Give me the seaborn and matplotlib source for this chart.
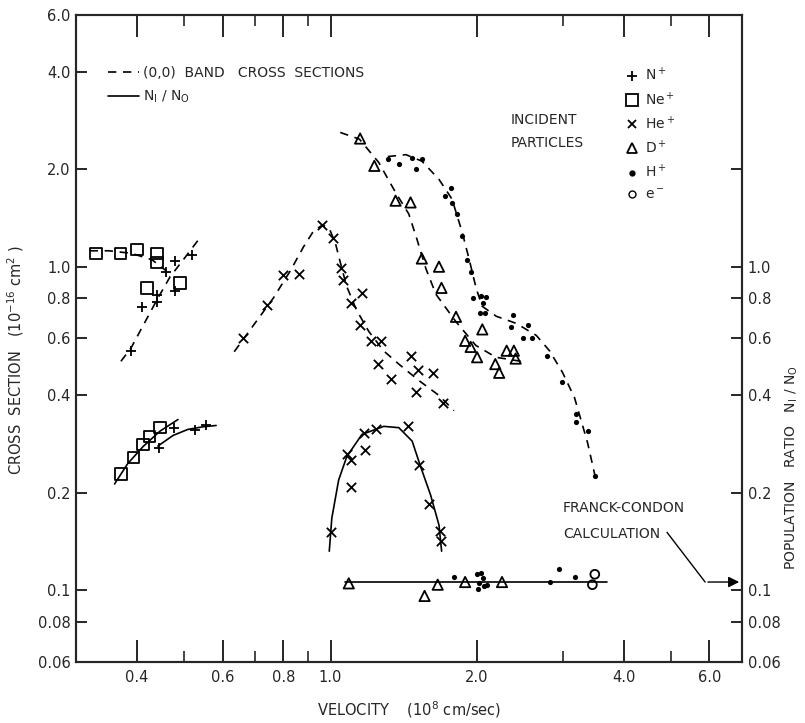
import numpy as np
import pandas as pd
import seaborn as sns
import matplotlib.pyplot as plt
from matplotlib.lines import Line2D
from matplotlib.ticker import FixedLocator, NullFormatter, FixedFormatter

# ---- data (velocity in 1e8 cm/s) ----
# (0,0) band cross sections, 1e-16 cm^2
ne_v = [0.33, 0.37, 0.40, 0.44, 0.44, 0.42, 0.49]
ne_cs = [1.10, 1.10, 1.13, 1.10, 1.03, 0.86, 0.89]
ne_fit_v = [0.32, 0.35, 0.39, 0.43, 0.46]
ne_fit_cs = [1.12, 1.12, 1.10, 1.05, 0.97]

n_v = [0.39, 0.41, 0.44, 0.44, 0.46, 0.48, 0.48, 0.52]
n_cs = [0.55, 0.75, 0.78, 0.82, 0.96, 0.84, 1.04, 1.09]
n_fit_v = [0.371, 0.389, 0.417, 0.442, 0.468, 0.503, 0.535]
n_fit_cs = [0.51, 0.56, 0.68, 0.80, 0.93, 1.07, 1.21]

he_v = [0.66, 0.74, 0.80, 0.86, 0.96, 1.01, 1.05, 1.06, 1.10, 1.16, 1.15, 1.21,
        1.27, 1.25, 1.33, 1.46, 1.51, 1.62, 1.50, 1.70]
he_cs = [0.60, 0.76, 0.94, 0.95, 1.35, 1.23, 0.99, 0.91, 0.77, 0.83, 0.66, 0.59,
         0.59, 0.50, 0.45, 0.53, 0.48, 0.47, 0.41, 0.38]
he_fit_v = [0.634, 0.697, 0.763, 0.827, 0.880, 0.923, 0.963, 0.995, 1.024, 1.049,
            1.079, 1.131, 1.198, 1.286, 1.381, 1.518, 1.670, 1.793]
he_fit_cs = [0.546, 0.664, 0.80, 0.972, 1.152, 1.29, 1.346, 1.309, 1.177, 1.021,
             0.870, 0.734, 0.631, 0.549, 0.500, 0.445, 0.40, 0.359]

d_v = [1.15, 1.23, 1.36, 1.46, 1.54, 1.67, 1.69, 1.81, 2.05, 1.89, 1.94, 2.00,
       2.18, 2.22, 2.30, 2.38, 2.40]
d_cs = [2.49, 2.05, 1.60, 1.58, 1.06, 1.00, 0.86, 0.70, 0.64, 0.59, 0.565, 0.525,
        0.50, 0.47, 0.55, 0.55, 0.52]
d_fit_v = [1.047, 1.146, 1.256, 1.359, 1.448, 1.504, 1.570, 1.646, 1.807, 1.988, 2.186, 2.52]
d_fit_cs = [2.60, 2.48, 2.10, 1.70, 1.455, 1.219, 0.986, 0.822, 0.678, 0.571, 0.525, 0.507]

h_v = [1.31, 1.38, 1.47, 1.54, 1.50, 1.77, 1.72, 1.78, 1.82, 1.86, 1.91, 1.94,
       1.96, 2.04, 2.09, 2.06, 2.03, 2.08, 2.37, 2.35, 2.55, 2.49, 2.59, 2.79,
       2.99, 3.20, 3.19, 3.38, 3.50]
h_cs = [2.16, 2.07, 2.17, 2.16, 2.00, 1.75, 1.65, 1.57, 1.46, 1.24, 1.05, 0.96,
        0.80, 0.81, 0.805, 0.77, 0.72, 0.72, 0.71, 0.65, 0.66, 0.60, 0.60, 0.53,
        0.44, 0.35, 0.33, 0.31, 0.225]
h_fit_v = [1.311, 1.428, 1.540, 1.670, 1.776, 1.863, 1.925, 1.991, 2.048, 2.189,
           2.407, 2.647, 2.816, 2.994, 3.170, 3.372, 3.519]
h_fit_cs = [2.19, 2.22, 2.12, 1.862, 1.618, 1.281, 1.058, 0.858, 0.755, 0.703,
            0.668, 0.613, 0.55, 0.472, 0.394, 0.286, 0.215]

# population ratio N1/N0
ne_r_v = [0.371, 0.394, 0.412, 0.425, 0.446]
ne_r = [0.229, 0.257, 0.282, 0.299, 0.318]
ne_r_fit_v = [0.360, 0.383, 0.412, 0.446, 0.486]
ne_r_fit = [0.213, 0.246, 0.278, 0.310, 0.337]

n_r_v = [0.444, 0.477, 0.527, 0.555]
n_r = [0.276, 0.318, 0.312, 0.323]
n_r_fit_v = [0.442, 0.475, 0.509, 0.547, 0.582]
n_r_fit = [0.279, 0.301, 0.314, 0.320, 0.323]

he_r_v = [1.00, 1.08, 1.10, 1.10, 1.175, 1.17, 1.24, 1.44, 1.52, 1.59, 1.68, 1.69]
he_r = [0.151, 0.264, 0.253, 0.208, 0.272, 0.306, 0.314, 0.321, 0.243, 0.185, 0.152, 0.142]
he_r_fit_v = [0.994, 1.006, 1.039, 1.080, 1.160, 1.286, 1.381, 1.471, 1.531, 1.605, 1.670, 1.691]
he_r_fit = [0.132, 0.167, 0.219, 0.259, 0.303, 0.321, 0.318, 0.289, 0.241, 0.197, 0.159, 0.132]

d_r_v = [1.09, 1.66, 1.56, 1.89, 2.25]
d_r = [0.105, 0.104, 0.096, 0.106, 0.106]
h_r_v = [1.79, 2.00, 2.04, 2.06, 2.02, 2.07, 2.10, 2.01, 2.82, 2.95, 3.18]
h_r = [0.110, 0.112, 0.113, 0.109, 0.105, 0.103, 0.104, 0.101, 0.106, 0.116, 0.110]
e_r_v = [3.49, 3.45]
e_r = [0.112, 0.104]
fc_v = [1.07, 3.69]
fc_r = [0.106, 0.106]

x_ticks = [0.4, 0.6, 0.8, 1.0, 2.0, 4.0, 6.0]
x_minor = [0.5, 0.7, 0.9, 3.0, 5.0]
y_ticks = [0.06, 0.08, 0.1, 0.2, 0.4, 0.6, 0.8, 1.0, 2.0, 4.0, 6.0]
y_labels = ["0.06", "0.08", "0.1", "0.2", "0.4", "0.6", "0.8", "1.0", "2.0", "4.0", "6.0"]
yr_ticks = [0.06, 0.08, 0.1, 0.2, 0.4, 0.6, 0.8, 1.0, 2.0]
yr_labels = ["0.06", "0.08", "0.1", "0.2", "0.4", "0.6", "0.8", "1.0", ""]

sns.set_style("ticks")
plt.rcParams['font.family'] = ['DejaVu Sans']

fig = plt.figure(figsize=(8.05, 7.23), dpi=100)
ax = fig.add_axes([0.0944, 0.0844, 0.8273, 0.8949])
ax.set_xscale('log')
ax.set_yscale('log')
ax.set_xlim(0.3, 7.0)
ax.set_ylim(0.06, 6.0)

dash = (0, (5, 4))
lw = 1.2
# fitted curves
for xv, yv, ls in [(ne_fit_v, ne_fit_cs, dash), (n_fit_v, n_fit_cs, dash),
                   (he_fit_v, he_fit_cs, dash), (d_fit_v, d_fit_cs, dash),
                   (h_fit_v, h_fit_cs, dash),
                   (ne_r_fit_v, ne_r_fit, '-'), (n_r_fit_v, n_r_fit, '-'),
                   (he_r_fit_v, he_r_fit, '-'), (fc_v, fc_r, '-')]:
    sns.lineplot(x=xv, y=yv, ax=ax, color='black', linestyle=ls, linewidth=lw,
                 estimator=None, sort=False)

# data points
def pts(xv, yv, marker, size, filled=False):
    if marker in ('x', '+'):
        sns.scatterplot(x=xv, y=yv, ax=ax, marker=marker, s=size, color='black',
                        linewidth=1.3)
    elif filled:
        sns.scatterplot(x=xv, y=yv, ax=ax, marker=marker, s=size, color='black',
                        edgecolor='black', linewidth=0)
    else:
        sns.scatterplot(x=xv, y=yv, ax=ax, marker=marker, s=size, facecolor='none',
                        edgecolor='black', linewidth=1.3)

pts(ne_v, ne_cs, 's', 70)
pts(ne_r_v, ne_r, 's', 70)
pts(n_v, n_cs, '+', 55)
pts(n_r_v, n_r, '+', 55)
pts(he_v, he_cs, 'x', 45)
pts(he_r_v, he_r, 'x', 45)
pts(d_v, d_cs, '^', 55)
pts(d_r_v, d_r, '^', 55)
pts(h_v, h_cs, 'o', 14, filled=True)
pts(h_r_v, h_r, 'o', 14, filled=True)
pts(e_r_v, e_r, 'o', 40)

# axes styling
for sp in ax.spines.values():
    sp.set_linewidth(1.5)
    sp.set_visible(True)
ax.xaxis.set_major_locator(FixedLocator(x_ticks))
ax.xaxis.set_major_formatter(FixedFormatter([f"{t:.1f}" for t in x_ticks]))
ax.xaxis.set_minor_locator(FixedLocator(x_minor))
ax.xaxis.set_minor_formatter(NullFormatter())
ax.yaxis.set_major_locator(FixedLocator(y_ticks))
ax.yaxis.set_major_formatter(FixedFormatter(y_labels))
ax.yaxis.set_minor_locator(FixedLocator([0.1, 1.0]))
ax.yaxis.set_minor_formatter(NullFormatter())
ax.tick_params(axis='x', which='major', direction='in', length=16, width=1.4,
               top=True, labelsize=10.5, pad=6)
ax.tick_params(axis='x', which='minor', direction='in', length=8, width=1.2, top=True)
ax.tick_params(axis='y', which='major', direction='in', length=8, width=1.4,
               labelsize=10.5, pad=4)
ax.tick_params(axis='y', which='minor', direction='in', length=20, width=1.4)

ax2 = ax.twinx()
ax2.set_yscale('log')
ax2.set_ylim(0.06, 6.0)
ax2.yaxis.set_major_locator(FixedLocator(yr_ticks))
ax2.yaxis.set_major_formatter(FixedFormatter(yr_labels))
ax2.yaxis.set_minor_locator(FixedLocator([0.1, 1.0]))
ax2.yaxis.set_minor_formatter(NullFormatter())
ax2.tick_params(axis='y', which='major', direction='in', length=8, width=1.4,
                labelsize=10.5, pad=4)
ax2.tick_params(axis='y', which='minor', direction='in', length=24, width=1.4)
for sp in ax2.spines.values():
    sp.set_linewidth(1.5)

ax.set_xlabel("VELOCITY    (10$^8$ cm/sec)", fontsize=10.5, labelpad=10)
ax.set_ylabel("CROSS  SECTION   (10$^{-16}$ cm$^2$ )", fontsize=10.5)
ax.yaxis.set_label_coords(-0.075, 0.467)
ax2.set_ylabel("POPULATION   RATIO   N$_{\\mathsf{I}}$ / N$_{\\mathsf{O}}$",
               fontsize=10, rotation=90)
ax2.yaxis.set_label_coords(1.062, 0.30)

# line legend (upper left)
line_handles = [Line2D([], [], color='black', linestyle=dash, linewidth=lw),
                Line2D([], [], color='black', linestyle='-', linewidth=lw)]
leg1 = ax.legend(line_handles, ["(0,0)  BAND   CROSS  SECTIONS", "N$_{\\mathsf{I}}$ / N$_{\\mathsf{O}}$"],
                 loc='upper left', bbox_to_anchor=(0.03, 0.94), frameon=False,
                 fontsize=10, handlelength=2.2, handletextpad=0.3, labelspacing=0.6)
ax.add_artist(leg1)

# particle legend (upper right)
mk_handles = [
    Line2D([], [], color='black', marker='+', linestyle='none', markersize=7, markeredgewidth=1.3),
    Line2D([], [], color='black', marker='s', linestyle='none', markersize=8,
           markerfacecolor='none', markeredgewidth=1.3),
    Line2D([], [], color='black', marker='x', linestyle='none', markersize=6, markeredgewidth=1.3),
    Line2D([], [], color='black', marker='^', linestyle='none', markersize=7,
           markerfacecolor='none', markeredgewidth=1.3),
    Line2D([], [], color='black', marker='o', linestyle='none', markersize=3.5),
    Line2D([], [], color='black', marker='o', linestyle='none', markersize=5,
           markerfacecolor='none', markeredgewidth=1.0),
]
mk_labels = ["N$^+$", "Ne$^+$", "He$^+$", "D$^+$", "H$^+$", "e$^-$"]
ax.legend(mk_handles, mk_labels, loc='upper left', bbox_to_anchor=(0.805, 0.94),
          frameon=False, fontsize=10, handlelength=1.0, handletextpad=0.5,
          labelspacing=0.5)

ax.text(0.652, 0.838, "INCIDENT", transform=ax.transAxes, fontsize=10, va='center')
ax.text(0.652, 0.802, "PARTICLES", transform=ax.transAxes, fontsize=10, va='center')
ax.text(0.731, 0.238, "FRANCK-CONDON", transform=ax.transAxes, fontsize=10, va='center')
ax.text(0.731, 0.198, "CALCULATION", transform=ax.transAxes, fontsize=10, va='center')

# Franck-Condon arrow
ax.plot([4.91, 5.88], [0.151, 0.106], color='black', linewidth=1.0)
ax.annotate("", xy=(7.0, 0.106), xytext=(5.88, 0.106),
            arrowprops=dict(arrowstyle='-|>', color='black', lw=1.0, mutation_scale=16))

fig.savefig("out.png", dpi=100)
